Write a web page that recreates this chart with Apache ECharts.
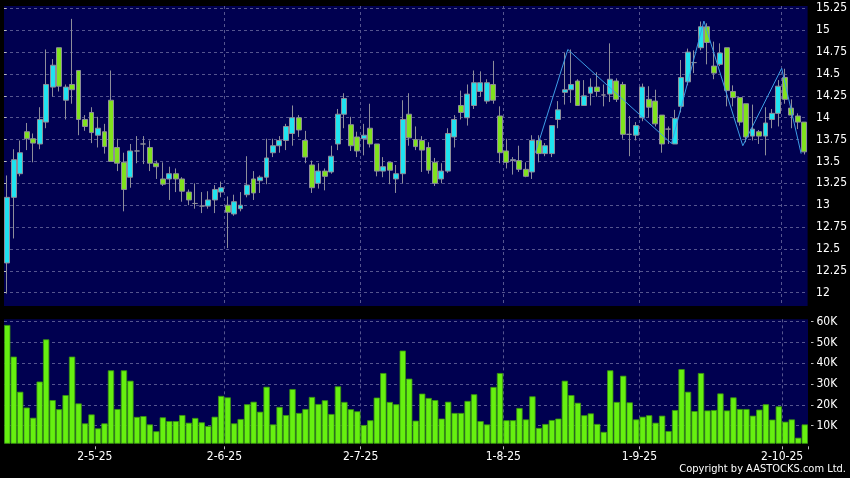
<!DOCTYPE html>
<html><head><meta charset="utf-8">
<script src="https://cdn.jsdelivr.net/npm/echarts@6/dist/echarts.min.js"></script>
<style>html,body{margin:0;padding:0;background:#000;}#c{width:850px;height:478px;}</style>
</head><body><div id="c"></div>
<script>
const dates = [
'10-4-25','11-4-25','14-4-25','15-4-25','16-4-25','17-4-25','22-4-25','23-4-25','24-4-25','25-4-25','28-4-25','29-4-25','30-4-25',
'2-5-25','6-5-25','7-5-25','8-5-25','9-5-25','12-5-25','13-5-25','14-5-25','15-5-25','16-5-25','19-5-25','20-5-25','21-5-25','22-5-25','23-5-25','26-5-25','27-5-25','28-5-25','29-5-25','30-5-25',
'2-6-25','3-6-25','4-6-25','5-6-25','6-6-25','9-6-25','10-6-25','11-6-25','12-6-25','13-6-25','16-6-25','17-6-25','18-6-25','19-6-25','20-6-25','23-6-25','24-6-25','25-6-25','26-6-25','27-6-25','30-6-25',
'2-7-25','3-7-25','4-7-25','7-7-25','8-7-25','9-7-25','10-7-25','11-7-25','14-7-25','15-7-25','16-7-25','17-7-25','18-7-25','21-7-25','22-7-25','23-7-25','24-7-25','25-7-25','28-7-25','29-7-25','30-7-25','31-7-25',
'1-8-25','4-8-25','5-8-25','6-8-25','7-8-25','8-8-25','11-8-25','12-8-25','13-8-25','14-8-25','15-8-25','18-8-25','19-8-25','20-8-25','21-8-25','22-8-25','25-8-25','26-8-25','27-8-25','28-8-25','29-8-25',
'1-9-25','2-9-25','3-9-25','4-9-25','5-9-25','8-9-25','9-9-25','10-9-25','11-9-25','12-9-25','15-9-25','16-9-25','17-9-25','18-9-25','19-9-25','22-9-25','23-9-25','24-9-25','25-9-25','26-9-25','29-9-25','30-9-25',
'2-10-25','3-10-25','6-10-25','8-10-25','9-10-25'
];
const opens = [12.34,13.09,13.36,13.84,13.76,13.70,13.95,14.35,14.80,14.20,14.38,14.54,13.98,14.06,13.80,13.84,14.20,13.66,13.49,13.32,13.62,13.70,13.66,13.48,13.30,13.30,13.36,13.30,13.15,13.02,12.99,12.99,13.06,13.15,13.00,12.90,12.96,13.12,13.30,13.28,13.32,13.60,13.68,13.74,13.82,14.00,13.74,13.46,13.25,13.39,13.38,13.70,14.04,13.92,13.78,13.76,13.88,13.70,13.39,13.49,13.30,13.36,14.04,13.75,13.74,13.66,13.49,13.30,13.39,13.78,14.14,14.00,14.14,14.30,14.19,14.38,14.02,13.62,13.51,13.51,13.41,13.38,13.74,13.59,13.59,13.98,14.29,14.32,14.42,14.14,14.28,14.35,14.26,14.27,14.42,14.38,13.81,13.80,14.00,14.21,14.19,14.03,13.87,13.70,14.13,14.41,14.63,14.80,15.04,14.59,14.61,14.80,14.30,14.23,14.16,13.79,13.84,13.79,13.98,14.05,14.46,14.11,14.02,13.95];
const closes = [13.09,13.52,13.60,13.76,13.71,13.98,14.38,14.60,14.36,14.35,14.32,13.98,13.90,13.83,13.88,13.67,13.50,13.48,13.18,13.62,13.62,13.70,13.48,13.44,13.24,13.36,13.30,13.16,13.06,13.02,12.99,13.06,13.18,13.20,12.92,13.04,13.00,13.23,13.14,13.32,13.54,13.68,13.74,13.90,14.00,13.86,13.55,13.20,13.39,13.33,13.56,14.04,14.22,13.68,13.62,13.80,13.70,13.39,13.44,13.40,13.36,13.98,13.77,13.67,13.63,13.40,13.25,13.39,13.82,13.98,14.06,14.27,14.40,14.40,14.40,14.20,13.60,13.49,13.52,13.41,13.33,13.74,13.59,13.68,13.91,14.09,14.32,14.38,14.14,14.25,14.35,14.30,14.26,14.44,14.21,13.81,13.81,13.91,14.35,14.12,13.93,13.70,13.87,13.99,14.46,14.75,14.63,15.04,14.86,14.51,14.74,14.31,14.23,13.95,13.78,13.87,13.79,13.94,14.05,14.36,14.21,14.03,13.95,13.61];
const lows = [11.99,12.62,13.33,13.63,13.49,13.64,13.88,14.24,14.30,13.98,14.16,13.80,13.85,13.71,13.66,13.59,13.50,13.39,12.93,13.20,13.48,13.47,13.39,13.30,13.22,13.06,13.15,13.04,13.00,12.96,12.91,12.96,12.91,13.09,12.51,12.88,12.93,13.09,13.06,13.14,13.24,13.55,13.60,13.63,13.68,13.78,13.48,13.14,13.19,13.17,13.36,13.63,13.88,13.62,13.55,13.57,13.66,13.33,13.32,13.24,13.14,13.25,13.68,13.63,13.38,13.36,13.22,13.25,13.37,13.66,13.98,13.91,14.10,14.24,14.16,14.16,13.48,13.42,13.35,13.38,13.32,13.30,13.49,13.56,13.55,13.88,14.15,14.17,14.14,14.14,14.14,14.24,14.13,14.18,14.18,13.76,13.56,13.74,13.96,14.00,13.90,13.60,13.70,13.70,14.06,14.37,14.51,14.77,14.61,14.44,14.59,14.13,14.13,13.91,13.72,13.74,13.70,13.57,13.88,13.90,14.16,13.88,13.87,13.58];
const highs = [13.34,13.64,13.74,13.94,13.82,14.12,14.78,14.67,14.80,14.38,15.13,14.54,14.03,14.12,14.01,13.93,14.54,13.76,13.60,13.70,13.79,13.79,13.74,13.51,13.49,13.44,13.42,13.32,13.18,13.25,13.15,13.16,13.23,13.27,13.10,13.12,13.15,13.56,13.39,13.34,13.76,13.76,13.79,13.93,14.14,14.03,13.85,13.51,13.48,13.42,13.68,14.10,14.28,14.01,13.84,13.93,14.16,13.70,13.55,13.49,13.46,14.20,14.28,13.90,13.79,13.72,13.54,13.48,13.88,14.03,14.31,14.38,14.54,14.53,14.44,14.65,14.13,13.76,13.55,13.68,13.49,13.80,13.80,13.71,13.91,14.19,14.74,14.78,14.44,14.43,14.45,14.52,14.38,14.85,14.45,14.41,14.02,13.95,14.39,14.36,14.32,14.03,13.90,14.09,14.66,14.79,14.77,15.10,15.08,14.87,14.85,14.80,14.37,14.23,14.16,14.15,13.86,14.12,14.10,14.43,14.56,14.21,14.05,13.95];
const volumes = [58400,43200,26300,18700,13800,31200,51500,22300,17900,24700,43200,20700,11100,15400,8700,11100,36600,18000,36600,31600,14200,14600,10600,7300,14000,12200,12200,15100,11400,13700,11600,9800,14300,24300,23600,11100,13200,20300,21500,16700,28700,10600,19000,15100,27600,16100,18000,23800,20400,22200,15600,28900,21400,17900,16900,10300,12600,23500,35300,21400,20300,46100,32600,12400,25400,23300,22300,13400,21500,16100,16100,21900,25100,12200,10600,28600,35300,12600,12600,18500,13000,24100,8900,10800,12700,13400,31600,24700,21000,15000,15900,10800,7000,36600,21400,34000,21200,13000,14300,15000,11400,14800,7400,17500,37200,26300,17000,35300,17300,17500,25500,17300,23600,18000,18000,14800,17700,20300,12900,19300,11900,13000,4200,10600];
const priceTicks = [12,12.25,12.5,12.75,13,13.25,13.5,13.75,14,14.25,14.5,14.75,15,15.25];
const volumeTicks = [10000,20000,30000,40000,50000,60000];
// zigzag vertices: [slot position (left edge of candle index), price]
const zigzag = [[82,13.60],[87,14.78],[103,13.705],[108,15.105],[114,13.68],[120,14.565],[123,13.59]];
const copyrightText = 'Copyright by AASTOCKS.com Ltd.';

const FONT = '"DejaVu Sans Condensed","DejaVu Sans",sans-serif';
const labeled = new Set();
dates.forEach((d, i) => { if (i > 0 && d.split('-')[1] !== dates[i - 1].split('-')[1]) labeled.add(i); });
const gridLine = { color: '#55558f', width: 1, type: [3, 3] };

const chart = echarts.init(document.getElementById('c'), null, { renderer: 'canvas' });
chart.setOption({
  backgroundColor: '#000000',
  animation: false,
  grid: [
    { left: 4, right: 42, top: 6, height: 300, show: true, backgroundColor: '#000050', borderWidth: 0 },
    { left: 4, right: 42, top: 319.33, height: 124, show: true, backgroundColor: '#000050', borderWidth: 0 }
  ],
  xAxis: [
    { type: 'category', gridIndex: 0, data: dates, boundaryGap: true,
      axisLine: { show: false }, axisTick: { show: false }, axisLabel: { show: false },
      splitLine: { show: true, interval: (i) => labeled.has(i - 1), showMinLine: false, showMaxLine: false, lineStyle: gridLine } },
    { type: 'category', gridIndex: 1, data: dates, boundaryGap: true, offset: 3,
      axisLine: { show: false },
      axisTick: { show: true, interval: (i) => labeled.has(i - 1), length: 3, lineStyle: { color: '#bbbbbb' } },
      axisLabel: { show: true, interval: (i) => labeled.has(i), color: '#ffffff', fontFamily: FONT, fontSize: 12, margin: 5, padding: [0, 0, 0, 6.5] },
      splitLine: { show: true, interval: (i) => labeled.has(i - 1), showMinLine: false, showMaxLine: false, lineStyle: gridLine } },
    { type: 'value', gridIndex: 0, min: 0, max: dates.length, show: false }
  ],
  yAxis: [
    { type: 'value', gridIndex: 0, position: 'right', min: 11.848, max: 15.277, offset: 3, scale: true,
      axisLine: { show: false },
      axisTick: { show: true, length: 2.5, customValues: priceTicks, lineStyle: { color: '#bbbbbb' } },
      axisLabel: { customValues: priceTicks, color: '#ffffff', fontFamily: FONT, fontSize: 12, margin: 5.5 },
      splitLine: { show: true, lineStyle: gridLine } },
    { type: 'value', gridIndex: 1, position: 'right', min: 1500, max: 61120, offset: 3,
      axisLine: { show: false },
      axisTick: { show: true, length: 2.5, customValues: volumeTicks, lineStyle: { color: '#bbbbbb' } },
      axisLabel: { customValues: volumeTicks, color: '#ffffff', fontFamily: FONT, fontSize: 12, margin: 5.5,
        formatter: (v) => (v / 1000) + 'K' },
      splitLine: { show: true, lineStyle: gridLine } }
  ],
  series: [
    { type: 'candlestick', xAxisIndex: 0, yAxisIndex: 0, barWidth: 5.4,
      data: opens.map((o, i) => [o, closes[i], lows[i], highs[i]]),
      itemStyle: { color: '#1fe3f0', color0: '#80e21e', borderColor: '#8e8e9a', borderColor0: '#8e8e9a', borderWidth: 1 } },
    { type: 'line', xAxisIndex: 2, yAxisIndex: 0, data: zigzag, symbol: 'none', z: 5,
      lineStyle: { color: '#3d9de6', width: 1 } },
    { type: 'bar', xAxisIndex: 1, yAxisIndex: 1, data: volumes, barWidth: 6.3, barGap: '0%', barCategoryGap: '0%',
      itemStyle: { color: '#66f010', borderColor: '#3a9410', borderWidth: 0.8 } }
  ],
  graphic: [
    { type: 'text', right: 4, top: 464, style: { text: copyrightText, fill: '#ffffff', font: '11px ' + FONT } }
  ]
});
</script></body></html>
